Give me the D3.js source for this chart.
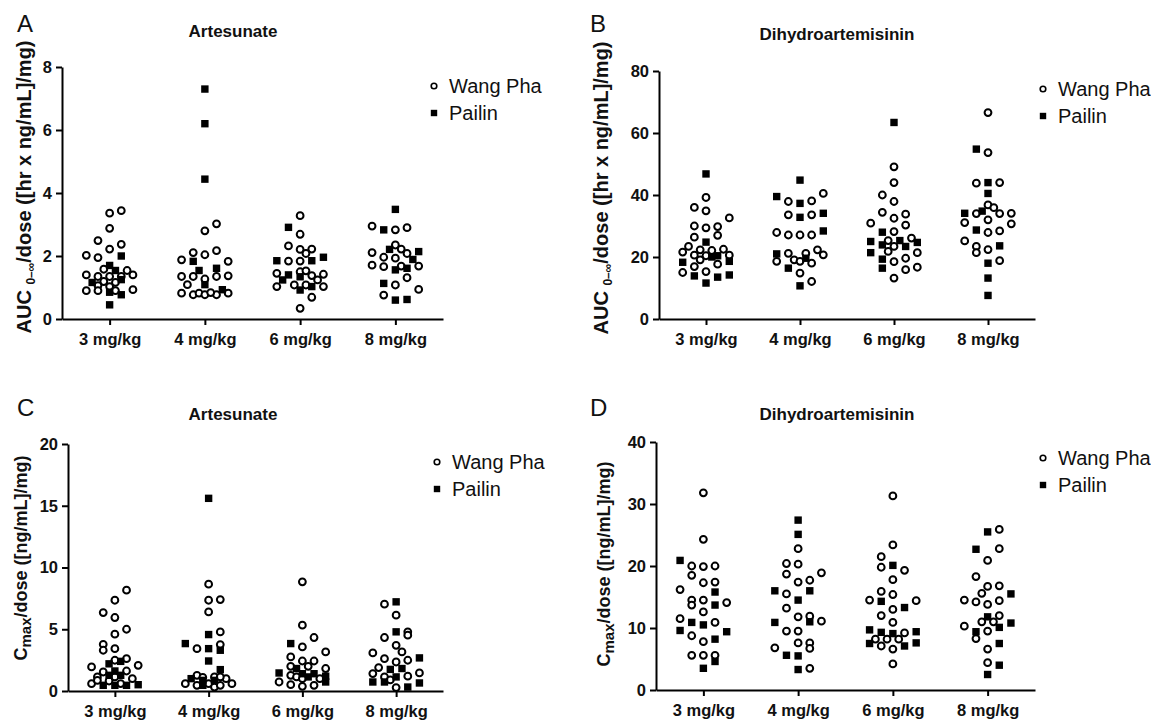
<!DOCTYPE html>
<html>
<head>
<meta charset="utf-8">
<script src="https://cdn.jsdelivr.net/npm/d3@7"></script>
<style>
  body { margin: 0; background: #fff; }
  svg { display: block; font-family: "Liberation Sans", Arial, sans-serif; }
</style>
</head>
<body>
<div id="root"></div>
<script>
const doses = ["3 mg/kg", "4 mg/kg", "6 mg/kg", "8 mg/kg"];
const seriesNames = ["Wang Pha", "Pailin"];

// each dose group holds [value, slot] pairs, slot = column position in the scatter
const aucArtesunateWangPha = [
  [[3.36, 0], [3.44, 2], [2.88, 0], [2.49, -2], [2.37, 2], [2.22, 0], [2.02, -4], [1.95, -2], [1.4, -4], [1.35, -2], [1.58, -1], [1.54, 3], [1.4, 4], [1.35, 2], [1.35, 0], [1.19, -1], [1.16, 1], [1.06, -2], [0.9, -4], [0.9, -2], [1.03, 0], [0.93, 4], [0.9, 1]],
  [[3.02, 2], [2.8, 0], [2.11, -2], [2.04, 0], [2.17, 2], [1.88, -4], [1.83, 4], [1.35, -2], [1.35, -4], [1.27, 0], [1.35, 2], [1.37, 4], [1.09, -3], [0.82, -4], [0.77, -2], [0.82, -1], [0.77, 0], [0.77, 2], [0.82, 4], [0.84, 1]],
  [[3.28, 0], [2.69, 0], [2.32, -2], [2.21, 0], [2.22, 2], [2.08, 1], [1.84, -2], [1.84, 0], [1.45, -4], [1.5, 0], [1.53, 1], [1.38, 2], [1.42, 4], [1.24, 3], [1.03, -4], [1.08, -1], [1.08, 1], [1.03, 4], [0.69, 2], [0.34, 0]],
  [[2.95, -4], [2.83, 0], [2.9, 2], [2.35, 0], [2.22, 1], [2.08, 2], [2.11, -4], [1.96, -2], [1.93, 0], [1.71, -4], [1.66, -2], [1.68, 1], [1.68, 4], [1.31, 2], [1.08, 0], [0.94, 4], [0.76, -2]],
];
const aucArtesunatePailin = [
  [[2.0, 2], [1.7, 0], [1.54, 1], [1.16, -3], [1.25, 2], [0.85, 0], [0.77, 2], [0.45, 0]],
  [[7.3, 0], [6.2, 0], [4.44, 0], [1.83, -2], [1.54, -1], [1.61, 2], [1.09, 0], [0.93, 3]],
  [[2.91, -2], [1.85, -4], [1.85, 2], [1.96, 4], [1.4, -2], [1.34, 0], [1.24, -3], [0.92, 0], [1.03, 2]],
  [[3.48, 0], [2.83, -2], [2.21, -1], [2.14, 4], [1.89, 3], [1.56, 0], [1.61, 2], [1.13, -2], [0.6, 0], [0.62, 2]],
];

const aucDhaWangPha = [
  [[39.2, 0], [36.0, -2], [34.9, 0], [32.6, 4], [30.0, -2], [29.4, 0], [29.8, 2], [26.4, -2], [27.0, 2], [23.4, -3], [21.6, -4], [22.3, -1], [22.1, 1], [22.5, 3], [20.6, -2], [20.4, 0], [20.6, 4], [19.1, -1], [17.7, 2], [16.9, -2], [15.0, -4], [15.3, 0]],
  [[37.9, -2], [38.1, 2], [40.5, 4], [33.6, -2], [33.6, 2], [27.9, -4], [27.1, -2], [27.1, 0], [27.1, 2], [18.6, -4], [21.2, -2], [19.1, -1], [21.2, 1], [22.3, 3], [20.7, 4], [18.6, 0], [18.0, 2], [14.8, 0], [12.1, 2]],
  [[49.1, 0], [44.0, 0], [40.0, -2], [37.9, 0], [34.4, -2], [32.5, 0], [33.8, 2], [30.9, -4], [30.3, 2], [28.2, 0], [26.1, 3], [25.3, -1], [23.4, 0], [21.8, -1], [21.4, 4], [18.5, 0], [19.6, 2], [15.9, 2], [16.7, 4], [13.2, 0]],
  [[66.6, 0], [53.7, 0], [43.8, -2], [44.0, 2], [36.8, 0], [35.9, 1], [34.0, -2], [34.0, 2], [34.1, 4], [32.0, 0], [31.1, -4], [30.7, 4], [27.9, 0], [28.4, 2], [25.2, -4], [23.4, -2], [21.4, -2], [22.4, 0], [18.8, 2]],
];
const aucDhaPailin = [
  [[46.8, 0], [24.8, 0], [20.4, 2], [18.3, -4], [18.6, 4], [13.9, -2], [13.5, 2], [14.2, 4], [11.6, 0], [20.0, 1]],
  [[44.8, 0], [39.5, -4], [37.3, 0], [32.8, 0], [34.1, 4], [28.4, 4], [21.0, -4], [19.6, 1], [16.4, -2], [10.7, 0]],
  [[63.4, 0], [28.0, -2], [25.0, -4], [25.3, 1], [24.7, 4], [23.9, -2], [23.4, 2], [21.4, -4], [19.3, -2], [16.4, -2]],
  [[54.8, -2], [44.0, 0], [40.5, 0], [34.1, -4], [34.8, -1], [28.7, -2], [23.6, 2], [18.0, 0], [13.2, 0], [7.6, 0]],
];

const cmaxArtesunateWangPha = [
  [[8.16, 2], [7.35, 0], [6.35, -2], [5.95, 0], [5.0, 2], [4.6, 0], [3.78, -2], [3.3, -2], [3.43, 0], [2.62, 2], [2.49, 0], [1.95, -4], [2.08, 4], [1.54, -2], [1.62, 2], [1.14, -3], [1.0, 3], [0.59, -4], [0.81, -1], [0.6, 1], [1.14, 0], [0.86, -3]],
  [[8.65, 0], [7.35, 0], [7.4, 2], [6.4, 0], [4.78, 2], [3.43, -2], [3.76, 2], [1.27, -2], [1.14, 1], [1.0, 3], [0.59, -4], [0.46, -2], [0.59, 0], [0.32, 1], [0.46, 2], [0.59, 4], [1.14, 2], [1.1, -1]],
  [[8.84, 0], [5.33, 0], [3.57, 0], [4.33, 2], [2.76, -2], [3.16, 4], [2.43, 0], [2.43, 2], [2.0, 1], [1.82, 4], [1.27, -2], [1.14, -1], [1.0, 3], [0.73, -4], [0.51, -2], [0.38, 0], [0.46, 2], [1.0, 0], [2.0, -2]],
  [[7.03, -2], [6.14, 0], [4.79, 2], [4.52, 2], [4.33, -2], [3.7, 0], [3.16, 1], [3.08, -4], [2.62, -2], [2.35, 0], [2.49, 2], [1.9, -3], [1.41, -4], [1.14, -2], [1.2, 2], [1.46, 4], [0.28, 0], [0.9, -1]],
];
const cmaxArtesunatePailin = [
  [[2.2, -1], [2.4, 1], [1.62, 0], [1.27, -1], [1.27, 1], [0.46, -2], [0.46, 0], [0.46, 2], [0.51, 4]],
  [[15.6, 0], [4.57, 0], [3.84, -4], [3.43, 0], [3.3, 2], [2.43, 0], [1.73, 2], [1.0, -3], [0.46, -1], [0.86, -1], [0.86, 1]],
  [[3.84, -2], [1.82, -1], [1.46, -4], [1.4, 0], [1.4, 2], [1.2, 4], [1.14, 1], [0.73, 4]],
  [[7.22, 0], [4.79, 0], [2.68, 4], [1.75, -1], [1.82, 1], [1.14, 0], [0.73, -4], [0.73, -2], [0.32, 2], [0.65, 4]],
];

const cmaxDhaWangPha = [
  [[31.8, 0], [24.3, 0], [20.0, -2], [19.9, 0], [20.0, 2], [18.5, -2], [17.3, 0], [17.4, 2], [16.2, -4], [14.5, -2], [14.5, 0], [13.7, -2], [14.1, 4], [12.6, 0], [11.5, -4], [10.9, 2], [8.75, -2], [7.8, 0], [5.6, -2], [5.6, 0], [5.6, 2]],
  [[22.8, 0], [20.4, -2], [20.3, 0], [18.7, -2], [18.9, 4], [17.4, 0], [17.7, 2], [15.5, -2], [13.2, -2], [11.8, 0], [11.9, 2], [11.1, 4], [9.5, -2], [9.5, 0], [7.6, 0], [7.6, 2], [6.8, -4], [6.7, 2], [3.5, 2]],
  [[31.3, 0], [23.4, 0], [21.5, -2], [19.8, -2], [19.3, 2], [17.8, 0], [15.9, -2], [15.4, 0], [14.5, -4], [14.4, 4], [13.0, 0], [12.0, -2], [10.9, 0], [9.2, 2], [8.2, -3], [8.2, -1], [8.2, 1], [7.1, -2], [6.6, 0], [4.2, 0]],
  [[25.9, 2], [22.8, 2], [20.9, 0], [18.3, -2], [16.7, 0], [16.8, 2], [15.6, -1], [14.5, -4], [14.2, -2], [13.8, 0], [14.4, 2], [12.0, 2], [11.0, -1], [11.0, 1], [10.3, -4], [9.5, 0], [8.3, -2], [6.6, 0], [4.4, 0]],
];
const cmaxDhaPailin = [
  [[20.9, -4], [15.8, 2], [13.7, 2], [10.9, -2], [10.5, 0], [9.6, -4], [9.4, 4], [8.2, 2], [4.6, 2], [3.5, 0]],
  [[27.4, 0], [25.1, 0], [16.0, -4], [16.0, 2], [14.5, 0], [10.9, -4], [11.0, 2], [5.6, -2], [5.5, 0], [3.3, 0]],
  [[20.1, 0], [14.3, -2], [13.3, 2], [9.7, -4], [9.3, -2], [9.1, 0], [9.4, 4], [7.5, -4], [7.1, 2], [7.6, 4]],
  [[25.5, 0], [22.7, -2], [15.5, 4], [11.8, 0], [10.1, 2], [10.8, 4], [9.4, -2], [7.5, 2], [4.0, 2], [2.5, 0]],
];

const ticksA = [0, 2, 4, 6, 8];
const ticksB = [0, 20, 40, 60, 80];
const ticksC = [0, 5, 10, 15, 20];
const ticksD = [0, 10, 20, 30, 40];

const width = 1151;
const height = 722;

const svg = d3
  .select("#root")
  .append("svg")
  .attr("width", width)
  .attr("height", height);

svg.append("rect").attr("width", width).attr("height", height).attr("fill", "#fff");

const panels = [
  {
    letter: "A", letterX: 17, letterY: 32,
    title: "Artesunate", titleX: 233, titleY: 37,
    label: ["AUC ", "0–∞", "/dose ([hr x ng/mL]/mg)"], labelSize: 20, labelX: 31, labelY: 187,
    axisX: 62, xEnd: 443, yBottom: 319, yTop: 67,
    ticks: ticksA, wang: aucArtesunateWangPha, pailin: aucArtesunatePailin,
    legendX: 434, legendY: 86,
  },
  {
    letter: "B", letterX: 590, letterY: 32,
    title: "Dihydroartemisinin", titleX: 837, titleY: 40,
    label: ["AUC ", "0–∞", "/dose ([hr x ng/mL]/mg)"], labelSize: 20, labelX: 608, labelY: 188,
    axisX: 659, xEnd: 1035, yBottom: 319, yTop: 71,
    ticks: ticksB, wang: aucDhaWangPha, pailin: aucDhaPailin,
    legendX: 1043, legendY: 89,
  },
  {
    letter: "C", letterX: 17, letterY: 416,
    title: "Artesunate", titleX: 233, titleY: 420,
    label: ["C", "max", "/dose ([ng/mL]/mg)"], labelSize: 18, labelX: 27, labelY: 558,
    axisX: 68, xEnd: 443, yBottom: 691, yTop: 444,
    ticks: ticksC, wang: cmaxArtesunateWangPha, pailin: cmaxArtesunatePailin,
    legendX: 437, legendY: 462,
  },
  {
    letter: "D", letterX: 590, letterY: 416,
    title: "Dihydroartemisinin", titleX: 837, titleY: 420,
    label: ["C", "max", "/dose ([ng/mL]/mg)"], labelSize: 18, labelX: 610, labelY: 564,
    axisX: 656, xEnd: 1035, yBottom: 690, yTop: 442,
    ticks: ticksD, wang: cmaxDhaWangPha, pailin: cmaxDhaPailin,
    legendX: 1043, legendY: 458,
  },
];

// column offset of a point inside its dose group
const slot = d3.scaleLinear().domain([-4, 4]).range([-23.3, 23.3]);

panels.forEach((p) => drawPanel(p));

function drawPanel(p) {
  const g = svg.append("g");

  const x = d3
    .scalePoint()
    .domain(doses)
    .range([p.axisX, p.xEnd])
    .padding(0.5);

  const yMax = p.ticks[p.ticks.length - 1];
  const y = d3.scaleLinear().domain([0, yMax]).range([p.yBottom, p.yTop]);

  // axes
  const yAxis = g
    .append("g")
    .attr("transform", `translate(${p.axisX},0)`)
    .call(d3.axisLeft(y).tickValues(p.ticks).tickSize(6).tickSizeOuter(0).tickPadding(4));

  const xAxis = g
    .append("g")
    .attr("transform", `translate(0,${p.yBottom})`)
    .call(d3.axisBottom(x).tickSize(6).tickSizeOuter(0).tickPadding(8));

  [yAxis, xAxis].forEach((axis) => {
    axis.selectAll("path, line").attr("stroke", "#000").attr("stroke-width", 2);
    axis
      .selectAll("text")
      .attr("fill", "#111")
      .style("font-family", "'Liberation Sans', Arial, sans-serif")
      .style("font-size", "16.5px")
      .style("font-weight", "bold");
  });

  // points: open circles first, then filled squares
  p.wang.forEach((group, i) => {
    g.append("g")
      .selectAll("circle")
      .data(group)
      .join("circle")
      .attr("cx", (d) => x(doses[i]) + slot(d[1]))
      .attr("cy", (d) => y(d[0]))
      .attr("r", 3.4)
      .attr("fill", "#fff")
      .attr("stroke", "#000")
      .attr("stroke-width", 2);
  });

  p.pailin.forEach((group, i) => {
    g.append("g")
      .selectAll("rect")
      .data(group)
      .join("rect")
      .attr("x", (d) => x(doses[i]) + slot(d[1]) - 3.7)
      .attr("y", (d) => y(d[0]) - 3.7)
      .attr("width", 7.4)
      .attr("height", 7.4)
      .attr("fill", "#000");
  });

  // panel letter and title
  g.append("text")
    .attr("x", p.letterX)
    .attr("y", p.letterY)
    .attr("font-size", 24)
    .attr("fill", "#111")
    .text(p.letter);

  g.append("text")
    .attr("x", p.titleX)
    .attr("y", p.titleY)
    .attr("text-anchor", "middle")
    .attr("font-size", 17)
    .attr("font-weight", "bold")
    .attr("fill", "#111")
    .text(p.title);

  // y label with subscript
  const isCmax = p.label[1] === "max";
  const label = g
    .append("text")
    .attr("transform", `translate(${p.labelX},${p.labelY}) rotate(-90)`)
    .attr("text-anchor", "middle")
    .attr("font-size", p.labelSize)
    .attr("font-weight", "bold")
    .attr("fill", "#111");
  label.append("tspan").text(p.label[0]);
  label
    .append("tspan")
    .attr("font-size", isCmax ? 15 : 12)
    .attr("dy", 4)
    .text(p.label[1]);
  label.append("tspan").attr("dy", -4).text(p.label[2]);

  // legend
  const legend = g.append("g").attr("transform", `translate(${p.legendX},${p.legendY})`);
  legend
    .append("circle")
    .attr("r", 2.8)
    .attr("fill", "#fff")
    .attr("stroke", "#000")
    .attr("stroke-width", 1.6);
  legend
    .append("rect")
    .attr("x", -3.2)
    .attr("y", 27 - 3.2)
    .attr("width", 6.4)
    .attr("height", 6.4)
    .attr("fill", "#000");
  legend
    .selectAll("text")
    .data(seriesNames)
    .join("text")
    .attr("x", 15)
    .attr("y", (d, i) => i * 27 + 7)
    .attr("font-size", 20)
    .attr("fill", "#111")
    .text((d) => d);
}
</script>
</body>
</html>
